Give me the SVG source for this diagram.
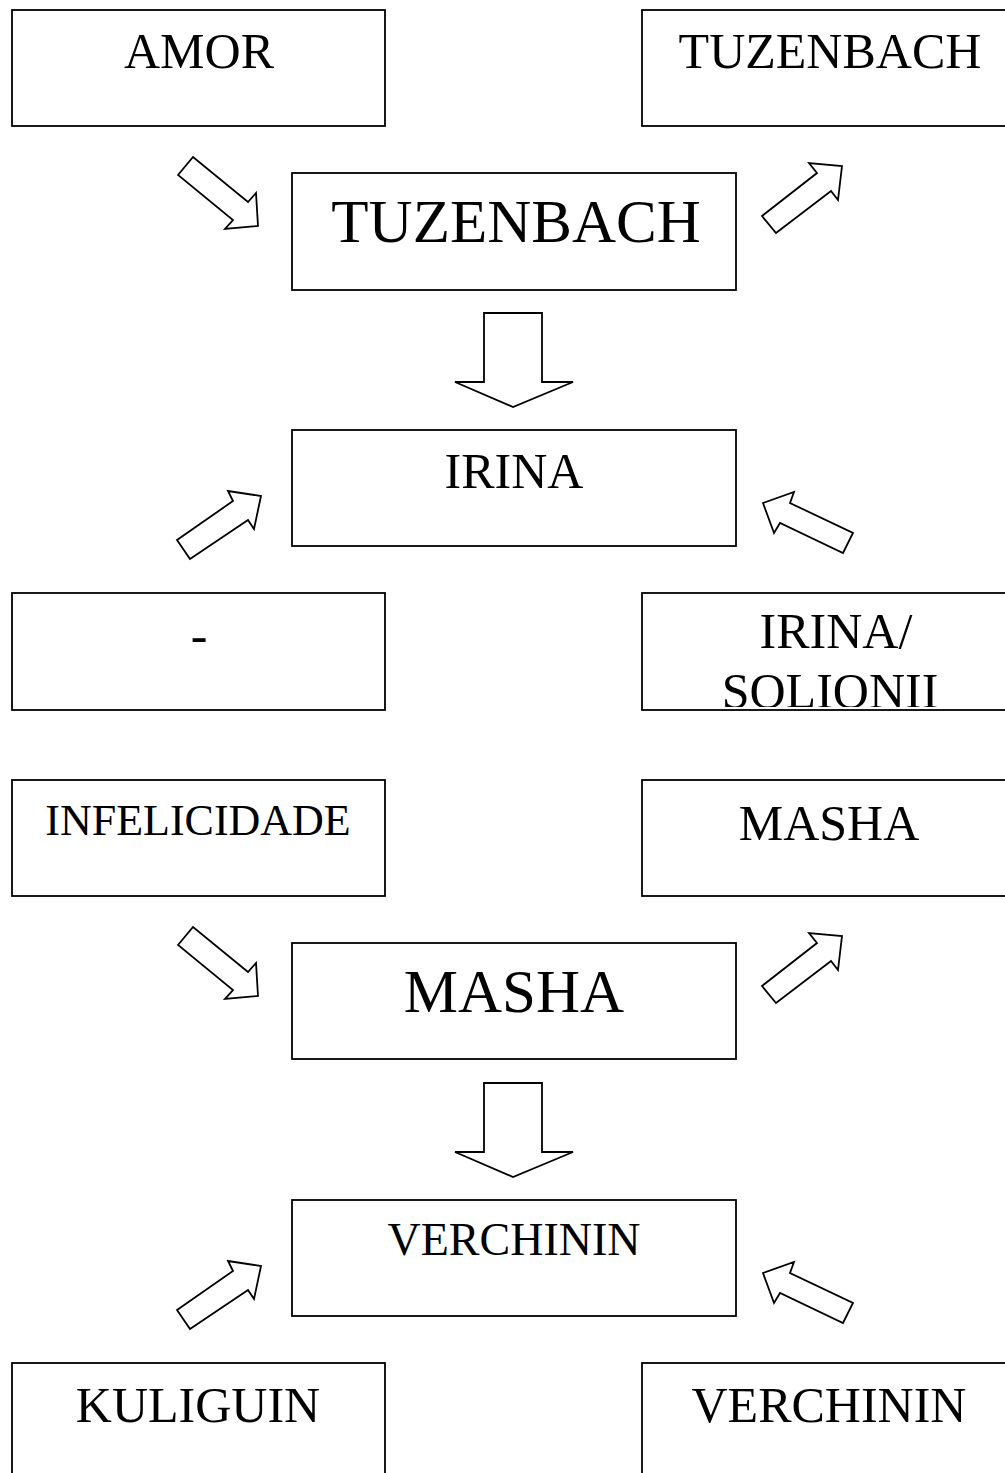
<svg xmlns="http://www.w3.org/2000/svg" width="1005" height="1473" viewBox="0 0 1005 1473">
<style>
.box{fill:#fff;stroke:#000;stroke-width:1.8}
.arr{fill:#fff;stroke:#000;stroke-width:1.8;stroke-linejoin:miter}
text{font-family:"Liberation Serif","Times New Roman",serif;fill:#000;text-anchor:middle}
.s50{font-size:50px}
.s61{font-size:61px}
.s44{font-size:44px}
.s46{font-size:46px}
</style>
<defs>
<clipPath id="clipSol"><rect x="643" y="594" width="362" height="113"/></clipPath>
</defs>
<rect width="1005" height="1473" fill="#fff"/>
<g id="connectors">
<polygon class="arr" points="178,175 193,157 248,202 256,193 258,226 225,229 233,220"/>
<polygon class="arr" points="762,216 817,173 809,163 842,166 838,200 831,191 776,233"/>
<polygon class="arr" points="484,313 542,313 542,382 573,382 513,407 455,382 484,382"/>
<polygon class="arr" points="177,540 233,501 228,491 261,496 254,529 248,520 190,559"/>
<polygon class="arr" points="763,503 794,492 790,503 853,533 843,553 780,523 774,533"/>
<g transform="translate(0,770)">
<polygon class="arr" points="178,175 193,157 248,202 256,193 258,226 225,229 233,220"/>
<polygon class="arr" points="762,216 817,173 809,163 842,166 838,200 831,191 776,233"/>
<polygon class="arr" points="484,313 542,313 542,382 573,382 513,407 455,382 484,382"/>
<polygon class="arr" points="177,540 233,501 228,491 261,496 254,529 248,520 190,559"/>
<polygon class="arr" points="763,503 794,492 790,503 853,533 843,553 780,523 774,533"/>
</g>
</g>
<g id="amor"><rect class="box" x="12" y="10" width="373" height="116"/><text class="s50" x="199" y="68">AMOR</text></g>
<g id="tuzenbach-right"><rect class="box" x="642" y="10" width="380" height="116"/><text class="s50" x="830" y="68">TUZENBACH</text></g>
<g id="tuzenbach-center"><rect class="box" x="292" y="173" width="444" height="117"/><text class="s61" x="516" y="242">TUZENBACH</text></g>
<g id="irina"><rect class="box" x="292" y="430" width="444" height="116"/><text class="s50" x="514" y="488">IRINA</text></g>
<g id="dash"><rect class="box" x="12" y="593" width="373" height="117"/><text class="s50" x="199" y="652">-</text></g>
<g id="irina-solionii"><rect class="box" x="642" y="593" width="380" height="117"/><g clip-path="url(#clipSol)"><text class="s50" x="836" y="648">IRINA/</text><text class="s50" x="830" y="708">SOLIONII</text></g></g>
<g id="infelicidade"><rect class="box" x="12" y="780" width="373" height="116"/><text class="s44" x="198" y="835">INFELICIDADE</text></g>
<g id="masha-right"><rect class="box" x="642" y="780" width="380" height="116"/><text class="s50" x="829" y="840">MASHA</text></g>
<g id="masha-center"><rect class="box" x="292" y="943" width="444" height="116"/><text class="s61" x="514" y="1012">MASHA</text></g>
<g id="verchinin-center"><rect class="box" x="292" y="1200" width="444" height="116"/><text class="s46" x="514" y="1255">VERCHININ</text></g>
<g id="kuliguin"><rect class="box" x="12" y="1363" width="373" height="130"/><text class="s50" x="198" y="1422">KULIGUIN</text></g>
<g id="verchinin-right"><rect class="box" x="642" y="1363" width="380" height="130"/><text class="s50" x="829" y="1422">VERCHININ</text></g>
</svg>
